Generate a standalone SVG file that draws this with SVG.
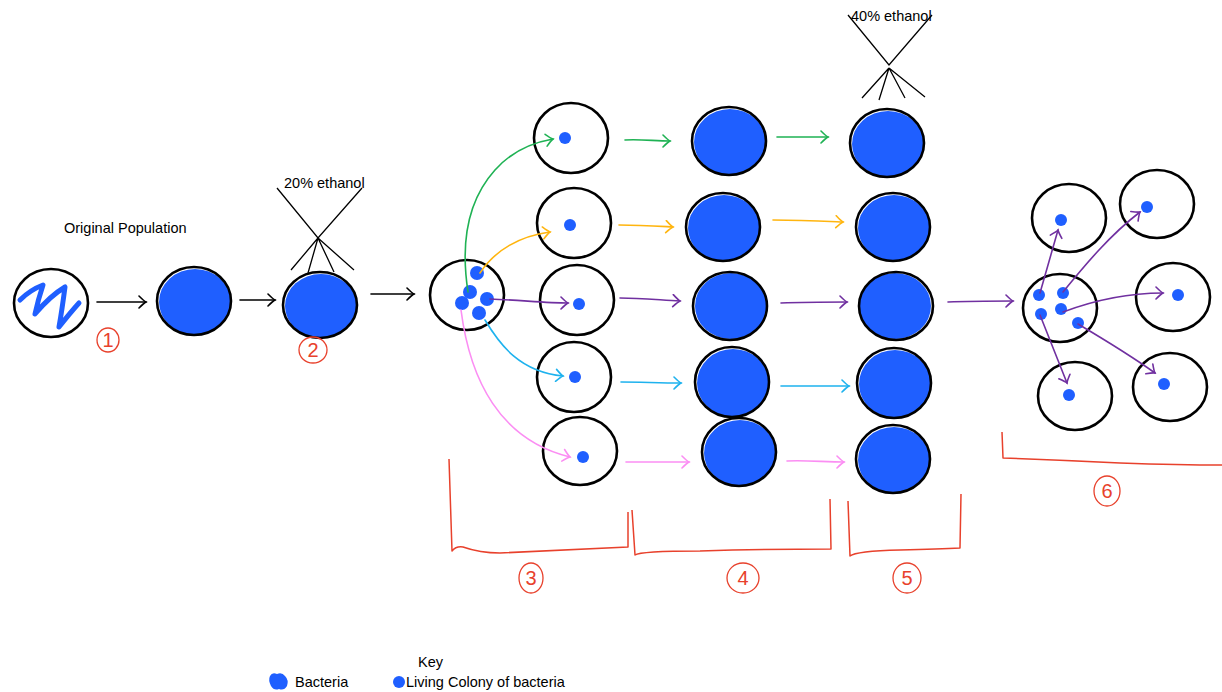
<svg xmlns="http://www.w3.org/2000/svg" width="1222" height="692" viewBox="0 0 1222 692">
  <style>
    .cell { fill: none; stroke: #000; stroke-width: 2.6; }
    .fill { fill: #1f5fff; }
    .dot { fill: #1f5fff; }
    .lbl { font-family: "Liberation Sans", Arial, sans-serif; font-size: 14.5px; fill: #000; }
    .num { font-family: "Liberation Sans", Arial, sans-serif; font-size: 20px; fill: #e8412c; text-anchor: middle; }
    .ring { fill: none; stroke: #e8412c; stroke-width: 1.3; }
    .brk { fill: none; stroke: #e8412c; stroke-width: 1.5; stroke-linejoin: round; }
    .eth { fill: none; stroke: #000; stroke-width: 1.3; }
    .c { fill: none; stroke-width: 1.6; stroke-linecap: round; }
    .k { stroke: #000; marker-end: url(#hk); }
    .g { stroke: #1fb254; marker-end: url(#hg); }
    .o { stroke: #ffb50f; marker-end: url(#ho); }
    .p { stroke: #7030a0; marker-end: url(#hp); }
    .b { stroke: #1eb2ee; marker-end: url(#hb); }
    .m { stroke: #fb8ef3; marker-end: url(#hm); }
  </style>
  <defs>
    <marker id="hk" viewBox="-9 -7 11 14" refX="0" refY="0" markerWidth="11" markerHeight="14" markerUnits="userSpaceOnUse" orient="auto">
      <path d="M-7,-6 Q-2,-1 0,0 Q-2,1 -7,6" fill="none" stroke="#000" stroke-width="1.6" stroke-linecap="round"/>
    </marker>
    <marker id="hg" viewBox="-9 -7 11 14" refX="0" refY="0" markerWidth="11" markerHeight="14" markerUnits="userSpaceOnUse" orient="auto">
      <path d="M-7,-6 Q-2,-1 0,0 Q-2,1 -7,6" fill="none" stroke="#1fb254" stroke-width="1.6" stroke-linecap="round"/>
    </marker>
    <marker id="ho" viewBox="-9 -7 11 14" refX="0" refY="0" markerWidth="11" markerHeight="14" markerUnits="userSpaceOnUse" orient="auto">
      <path d="M-7,-6 Q-2,-1 0,0 Q-2,1 -7,6" fill="none" stroke="#ffb50f" stroke-width="1.6" stroke-linecap="round"/>
    </marker>
    <marker id="hp" viewBox="-9 -7 11 14" refX="0" refY="0" markerWidth="11" markerHeight="14" markerUnits="userSpaceOnUse" orient="auto">
      <path d="M-7,-6 Q-2,-1 0,0 Q-2,1 -7,6" fill="none" stroke="#7030a0" stroke-width="1.6" stroke-linecap="round"/>
    </marker>
    <marker id="hb" viewBox="-9 -7 11 14" refX="0" refY="0" markerWidth="11" markerHeight="14" markerUnits="userSpaceOnUse" orient="auto">
      <path d="M-7,-6 Q-2,-1 0,0 Q-2,1 -7,6" fill="none" stroke="#1eb2ee" stroke-width="1.6" stroke-linecap="round"/>
    </marker>
    <marker id="hm" viewBox="-9 -7 11 14" refX="0" refY="0" markerWidth="11" markerHeight="14" markerUnits="userSpaceOnUse" orient="auto">
      <path d="M-7,-6 Q-2,-1 0,0 Q-2,1 -7,6" fill="none" stroke="#fb8ef3" stroke-width="1.6" stroke-linecap="round"/>
    </marker>
  </defs>

  <rect width="1222" height="692" fill="#fff"/>

  <!-- heading and ethanol labels -->
  <text class="lbl" x="64" y="233">Original Population</text>
  <text class="lbl" x="284" y="188" font-size="14">20% ethanol</text>
  <text class="lbl" x="851" y="21" font-size="14">40% ethanol</text>

  <!-- ethanol spray symbols -->
  <g id="spray-20">
    <path class="eth" d="M277,188 L318,238 L362,188"/>
    <path class="eth" d="M318,238 L291,270 M318,238 L308,273 M318,238 L334,272 M318,238 L354,270"/>
  </g>
  <g id="spray-40">
    <path class="eth" d="M848,15 L889,65 L932,15"/>
    <path class="eth" d="M889,68 L862,98 M889,68 L879,100 M889,68 L905,98 M889,68 L925,97"/>
  </g>

  <!-- stage 1 -->
  <g id="original">
    <ellipse class="cell" cx="51" cy="303" rx="37" ry="34"/>
    <path d="M20,300 Q30,290 43,285 Q38,300 35,314 Q50,296 65,287 Q62,310 59,327 Q70,313 79,303" fill="none" stroke="#1f5fff" stroke-width="5" stroke-linejoin="round" stroke-linecap="round"/>
  </g>
  <g id="grown">
    <ellipse class="fill" cx="195" cy="302" rx="36" ry="33"/>
    <ellipse class="cell" cx="194" cy="301" rx="37" ry="34"/>
  </g>
  <g id="treated-20">
    <ellipse class="fill" cx="321" cy="306" rx="36" ry="32"/>
    <ellipse class="cell" cx="320" cy="305" rx="37" ry="33"/>
  </g>

  <!-- stage 3 source plate -->
  <g id="source">
    <ellipse class="cell" cx="467" cy="295" rx="37" ry="35"/>
    <circle class="dot" cx="477" cy="273" r="7"/>
    <circle class="dot" cx="470" cy="292" r="7"/>
    <circle class="dot" cx="462" cy="303" r="7"/>
    <circle class="dot" cx="487" cy="299" r="7"/>
    <circle class="dot" cx="479" cy="313" r="7"/>
  </g>

  <!-- single colonies -->
  <g id="pick-1"><ellipse class="cell" cx="571" cy="138" rx="37" ry="35"/><circle class="dot" cx="565" cy="138" r="6"/></g>
  <g id="pick-2"><ellipse class="cell" cx="574" cy="223" rx="37" ry="35"/><circle class="dot" cx="570" cy="225" r="6"/></g>
  <g id="pick-3"><ellipse class="cell" cx="577" cy="300" rx="37" ry="35"/><circle class="dot" cx="579" cy="304" r="6"/></g>
  <g id="pick-4"><ellipse class="cell" cx="574" cy="377" rx="37" ry="35"/><circle class="dot" cx="575" cy="377" r="6"/></g>
  <g id="pick-5"><ellipse class="cell" cx="580" cy="451" rx="37" ry="34"/><circle class="dot" cx="583" cy="457" r="6"/></g>

  <!-- stage 4 grown plates -->
  <g id="grow-1"><ellipse class="fill" cx="730" cy="142" rx="36" ry="33"/><ellipse class="cell" cx="729" cy="141" rx="37" ry="34"/></g>
  <g id="grow-2"><ellipse class="fill" cx="724" cy="228" rx="36" ry="33"/><ellipse class="cell" cx="723" cy="227" rx="37" ry="34"/></g>
  <g id="grow-3"><ellipse class="fill" cx="731" cy="306" rx="36" ry="33"/><ellipse class="cell" cx="730" cy="306" rx="37" ry="34"/></g>
  <g id="grow-4"><ellipse class="fill" cx="733" cy="383" rx="36" ry="34"/><ellipse class="cell" cx="732" cy="382" rx="37" ry="35"/></g>
  <g id="grow-5"><ellipse class="fill" cx="740" cy="453" rx="36" ry="33"/><ellipse class="cell" cx="739" cy="452" rx="37" ry="34"/></g>

  <!-- stage 5 treated plates -->
  <g id="treated-1"><ellipse class="fill" cx="888" cy="144" rx="36" ry="33"/><ellipse class="cell" cx="887" cy="143" rx="37" ry="34"/></g>
  <g id="treated-2"><ellipse class="fill" cx="894" cy="228" rx="36" ry="33"/><ellipse class="cell" cx="893" cy="227" rx="37" ry="34"/></g>
  <g id="treated-3"><ellipse class="fill" cx="895" cy="306" rx="36" ry="33"/><ellipse class="cell" cx="896" cy="306" rx="37" ry="34"/></g>
  <g id="treated-4"><ellipse class="fill" cx="895" cy="384" rx="36" ry="34"/><ellipse class="cell" cx="894" cy="383" rx="37" ry="35"/></g>
  <g id="treated-5"><ellipse class="fill" cx="894" cy="460" rx="36" ry="33"/><ellipse class="cell" cx="893" cy="459" rx="37" ry="34"/></g>

  <!-- stage 6 survivors -->
  <g id="survivors">
    <ellipse class="cell" cx="1060" cy="308" rx="37" ry="34"/>
    <circle class="dot" cx="1039" cy="295" r="6"/>
    <circle class="dot" cx="1063" cy="293" r="6"/>
    <circle class="dot" cx="1041" cy="314" r="6"/>
    <circle class="dot" cx="1061" cy="309" r="6"/>
    <circle class="dot" cx="1078" cy="323" r="6"/>
  </g>
  <g id="spread-1"><ellipse class="cell" cx="1069" cy="218" rx="37" ry="34"/><circle class="dot" cx="1061" cy="220" r="6"/></g>
  <g id="spread-2"><ellipse class="cell" cx="1157" cy="204" rx="37" ry="34"/><circle class="dot" cx="1147" cy="207" r="6"/></g>
  <g id="spread-3"><ellipse class="cell" cx="1173" cy="297" rx="37" ry="34"/><circle class="dot" cx="1178" cy="295" r="6"/></g>
  <g id="spread-4"><ellipse class="cell" cx="1075" cy="396" rx="37" ry="34"/><circle class="dot" cx="1069" cy="395" r="6"/></g>
  <g id="spread-5"><ellipse class="cell" cx="1170" cy="387" rx="37" ry="34"/><circle class="dot" cx="1164" cy="384" r="6"/></g>

  <!-- connectors -->
  <g id="connectors">
    <path class="c k" d="M97,302 L146,302"/>
    <path class="c k" d="M240,300 L275,300"/>
    <path class="c k" d="M371,294 L414,294"/>

    <path class="c g" d="M468,292 C460,240 468,200 495,170 C510,153 530,143 553,139"/>
    <path class="c g" d="M625,140 C640,139 655,141 670,141"/>
    <path class="c g" d="M777,137 L828,137"/>

    <path class="c o" d="M480,273 C495,250 520,236 550,232"/>
    <path class="c o" d="M619,225 C640,225 655,226 673,227"/>
    <path class="c o" d="M773,220 C800,220 820,221 843,222"/>

    <path class="c p" d="M490,299 C520,300 545,303 568,303"/>
    <path class="c p" d="M620,298 C640,298 660,300 680,301"/>
    <path class="c p" d="M781,303 C805,302 825,302 847,302"/>
    <path class="c p" d="M948,302 C970,301 990,301 1013,301"/>

    <path class="c b" d="M485,320 C500,345 520,372 563,376"/>
    <path class="c b" d="M621,382 C640,382 660,383 681,383"/>
    <path class="c b" d="M781,386 L849,386"/>

    <path class="c m" d="M461,310 C470,380 500,440 570,457"/>
    <path class="c m" d="M626,462 L689,462"/>
    <path class="c m" d="M787,461 C805,460 825,462 844,462"/>

    <path class="c p" d="M1040,293 L1058,230"/>
    <path class="c p" d="M1063,292 C1085,265 1110,235 1140,212"/>
    <path class="c p" d="M1063,312 C1095,300 1130,293 1163,293"/>
    <path class="c p" d="M1040,315 L1067,383"/>
    <path class="c p" d="M1078,324 C1105,340 1130,355 1155,373"/>
  </g>

  <!-- step brackets and numbers -->
  <g id="step-1">
    <ellipse class="ring" cx="108" cy="340" rx="11" ry="12"/>
    <text class="num" x="108" y="347">1</text>
  </g>
  <g id="step-2">
    <ellipse class="ring" cx="313" cy="350" rx="14" ry="13"/>
    <text class="num" x="313" y="357">2</text>
  </g>
  <g id="step-3">
    <path class="brk" d="M449,459 L452,551 Q456,546 463,547 Q480,553 500,553 Q540,551 628,547 L628,512"/>
    <ellipse class="ring" cx="531" cy="578" rx="12" ry="15"/>
    <text class="num" x="531" y="585">3</text>
  </g>
  <g id="step-4">
    <path class="brk" d="M632,510 L635,555 Q640,551 700,551 Q770,549 831,549 L830,499"/>
    <ellipse class="ring" cx="743" cy="578" rx="16" ry="15"/>
    <text class="num" x="743" y="585">4</text>
  </g>
  <g id="step-5">
    <path class="brk" d="M848,501 L850,556 Q856,551 900,550 Q940,549 960,548 L961,494"/>
    <ellipse class="ring" cx="907" cy="578" rx="14" ry="15"/>
    <text class="num" x="907" y="585">5</text>
  </g>
  <g id="step-6">
    <path class="brk" d="M1002,432 L1003,458 Q1060,460 1120,463 Q1180,465 1222,465"/>
    <ellipse class="ring" cx="1107" cy="491" rx="13" ry="15"/>
    <text class="num" x="1107" y="498">6</text>
  </g>

  <!-- key -->
  <g id="key">
    <text class="lbl" x="418" y="667">Key</text>
    <path d="M270,676 Q272,672 277,674 Q282,672 285,676 Q289,680 287,686 Q284,691 279,689 Q274,691 271,686 Q268,680 270,676 Z" fill="#1f5fff"/>
    <text class="lbl" x="295" y="687">Bacteria</text>
    <circle class="dot" cx="399" cy="682" r="6"/>
    <text class="lbl" x="406" y="687">Living Colony of bacteria</text>
  </g>
</svg>
